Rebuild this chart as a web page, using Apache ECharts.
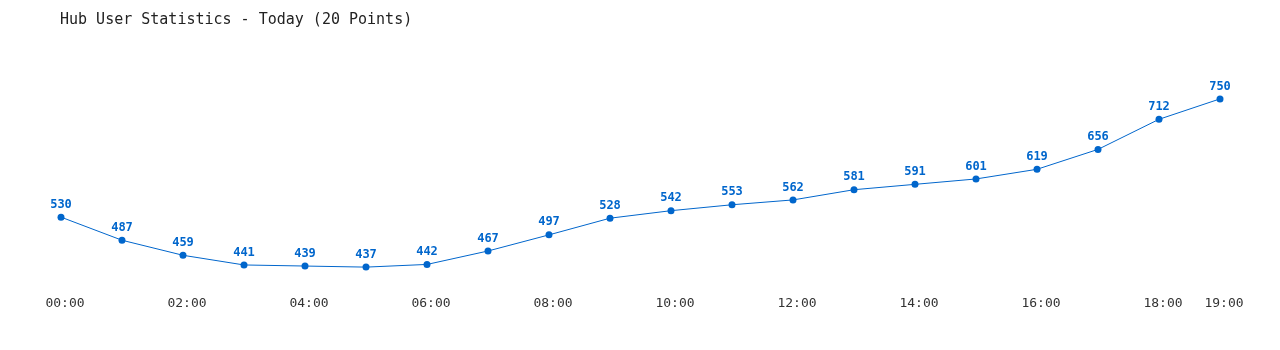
<!DOCTYPE html>
<html><head><meta charset="utf-8">
<script src="https://cdn.jsdelivr.net/npm/echarts@6/dist/echarts.min.js"></script>
<style>html,body{margin:0;padding:0;background:#fff}#c{width:1280px;height:350px}</style>
</head><body><div id="c"></div>
<script>
const categories = ['00:00','01:00','02:00','03:00','04:00','05:00','06:00','07:00','08:00','09:00','10:00','11:00','12:00','13:00','14:00','15:00','16:00','17:00','18:00','19:00'];
const users = [530,487,459,441,439,437,442,467,497,528,542,553,562,581,591,601,619,656,712,750];
const titleText = 'Hub User Statistics - Today (20 Points)';
const font = '"DejaVu Sans Mono", monospace';
const chart = echarts.init(document.getElementById('c'));
chart.setOption({
  animation: false,
  title: { text: titleText, left: 55, top: 8, textStyle: { fontFamily: font, fontSize: 15, fontWeight: 'normal', color: '#222' } },
  grid: { left: 61, right: 60, top: 72, bottom: 63 },
  xAxis: {
    type: 'category', data: categories, boundaryGap: false,
    axisLine: { show: false }, axisTick: { show: false },
    axisLabel: { interval: (i) => i % 2 === 0 || i === categories.length - 1, fontFamily: font, fontSize: 13, color: '#333', margin: 10, padding: [0,0,0,8] }
  },
  yAxis: { type: 'value', min: 400, max: 800, show: false, splitLine: { show: false } },
  series: [{
    type: 'line', data: users, symbol: 'circle', symbolSize: 7,
    lineStyle: { color: '#0066cc', width: 1 }, itemStyle: { color: '#0066cc' },
    label: { show: true, position: 'top', distance: 3, color: '#0066cc', fontFamily: font, fontSize: 12, fontWeight: 'bold' }
  }]
});
</script></body></html>
